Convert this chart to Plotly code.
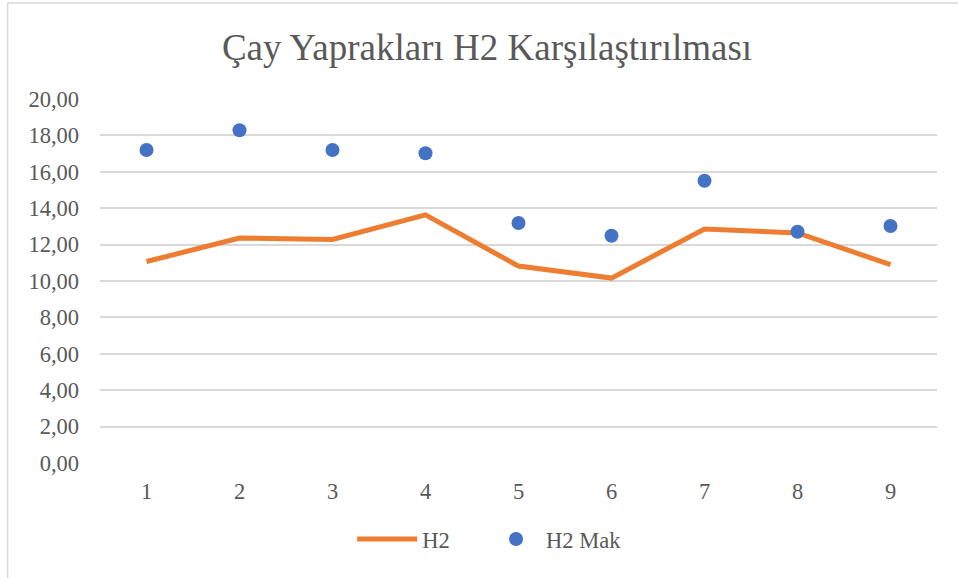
import plotly.graph_objects as go

categories = ["1", "2", "3", "4", "5", "6", "7", "8", "9"]
h2 = [11.07, 12.36, 12.28, 13.63, 10.82, 10.16, 12.86, 12.64, 10.90]
h2_mak = [17.20, 18.28, 17.20, 17.02, 13.19, 12.49, 15.51, 12.71, 13.02]
y_ticks = [0, 2, 4, 6, 8, 10, 12, 14, 16, 18, 20]
y_labels = ["0,00", "2,00", "4,00", "6,00", "8,00", "10,00", "12,00", "14,00", "16,00", "18,00", "20,00"]

FONT = "Liberation Serif"
GRAY = "#595959"
PW = 838.0

fig = go.Figure()
fig.add_trace(go.Scatter(x=categories, y=h2, mode="lines", name="H2", legend="legend",
                         line=dict(color="#ED7D31", width=5)))
fig.add_trace(go.Scatter(x=categories, y=h2_mak, mode="markers", name="H2 Mak", legend="legend2",
                         marker=dict(color="#4472C4", size=14)))

fig.update_layout(
    width=958, height=578,
    margin=dict(l=99.5, r=20.5, t=99, b=115, autoexpand=False),
    paper_bgcolor="white", plot_bgcolor="white",
    font=dict(family=FONT, color=GRAY, size=22.5),
    title=dict(text="Çay Yaprakları H2 Karşılaştırılması", x=487 / 958, xref="container",
               xanchor="center", y=0.918, yanchor="middle",
               font=dict(family=FONT, size=37, color=GRAY)),
    xaxis=dict(type="category", range=[-0.5, len(categories) - 0.5],
               showgrid=False, zeroline=False, showline=False,
               ticks="", ticklabelstandoff=12,
               tickfont=dict(family=FONT, size=22.5, color=GRAY)),
    yaxis=dict(range=[0, 20], tickvals=y_ticks, ticktext=y_labels,
               showgrid=True, gridcolor="#D9D9D9", gridwidth=1.5, zeroline=False,
               showline=False, ticks="", ticklabelstandoff=20,
               tickfont=dict(family=FONT, size=22.5, color=GRAY)),
    legend=dict(orientation="h", x=(352 - 99.5) / PW, xanchor="left", y=-0.21, yanchor="middle",
                font=dict(family=FONT, size=22.5, color=GRAY), itemwidth=60),
    legend2=dict(orientation="h", x=(486 - 99.5) / PW, xanchor="left", y=-0.21, yanchor="middle",
                 font=dict(family=FONT, size=22.5, color=GRAY), itemwidth=50),
    showlegend=True,
    shapes=[
        dict(type="line", xref="paper", yref="paper", x0=(7 - 99.5) / PW, x1=1.03,
             y0=(463 - 3) / 364, y1=(463 - 3) / 364, line=dict(color="#D9D9D9", width=1.5)),
        dict(type="line", xref="paper", yref="paper", x0=(7 - 99.5) / PW, x1=(7 - 99.5) / PW,
             y0=(463 - 3) / 364, y1=-0.4, line=dict(color="#D9D9D9", width=1.5)),
    ],
)

fig.write_html("out.html", config={"displayModeBar": False},
               post_script="document.body.style.margin='0';")
